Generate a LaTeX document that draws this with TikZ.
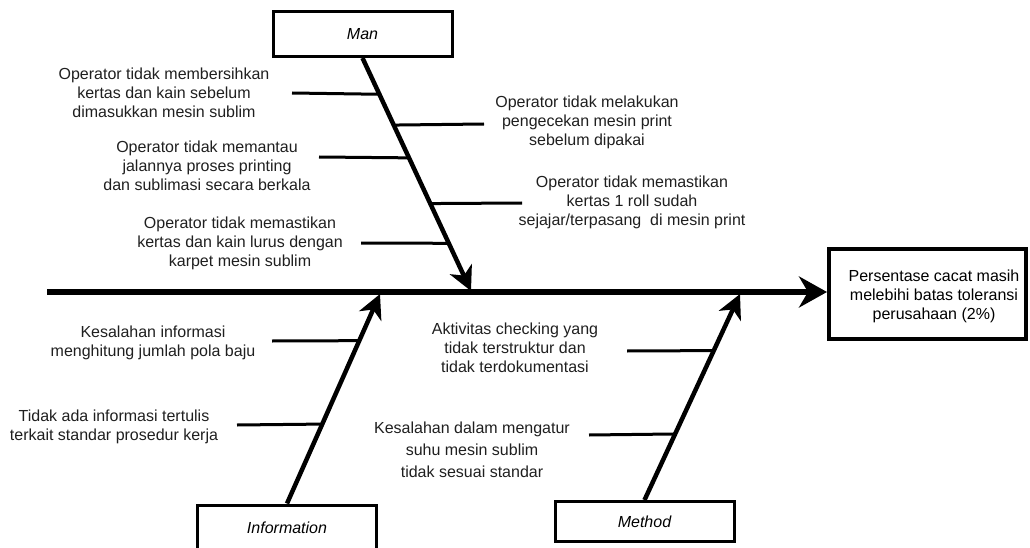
\documentclass[tikz,border=0pt]{standalone}
\usepackage{fontspec}
\setmainfont{Liberation Sans}
\usetikzlibrary{arrows.meta,calc}
\begin{document}
\begin{tikzpicture}[x=1pt,y=-1pt,
  every node/.style={font=\fontsize{16}{19}\selectfont},
  lbl/.style={align=center, text=black!88, inner sep=0pt},
  catbox/.style={draw, line width=3pt, minimum width=179pt, inner sep=0pt, font=\fontsize{16}{19}\selectfont\itshape},
  spine/.style={line width=5.5pt, -{Stealth[length=28pt,width=31pt,inset=9pt]}},
  bone/.style={line width=4.5pt, -{Stealth[length=24pt,width=24pt,inset=7pt]}},
  twig/.style={line width=3pt}]
\useasboundingbox (0,0) rectangle (1030,548);

% category boxes and effect box
\node[catbox, minimum height=45pt] (man) at (362.5,34) {Man};
\node[catbox, minimum height=45pt] (info) at (287,527.5) {Information};
\node[catbox, minimum height=40pt] (meth) at (644.5,521.5) {Method};
\node[draw, line width=4pt, minimum width=197pt, minimum height=90pt, inner sep=0pt] (res) at (927.5,294) {};
\node[lbl, text=black] (rt) at (934,296) {Persentase cacat masih\\melebihi batas toleransi\\perusahaan (2\%)};

% spine
\coordinate (s0) at (47,292);
\draw[spine] (s0) -- (res.west |- s0);

% bone tips
\coordinate (mtip) at (471,291);
\coordinate (itip) at (380,294);
\coordinate (etip) at (740,294);
\draw[bone] (man.south) -- (mtip);
\draw[bone] (info.north) -- (itip);
\draw[bone] (meth.north) -- (etip);

% Man causes
\node[lbl] (t1) at (164,93) {Operator tidak membersihkan\\kertas dan kain sebelum\\dimasukkan mesin sublim};
\node[lbl] (t2) at (207,166) {Operator tidak memantau\\jalannya proses printing\\dan sublimasi secara berkala};
\node[lbl] (t3) at (240,243) {Operator tidak memastikan\\kertas dan kain lurus dengan\\karpet mesin sublim};
\node[lbl] (t4) at (587,122) {Operator tidak melakukan\\pengecekan mesin print\\sebelum dipakai};
\node[lbl] (t5) at (632,202) {Operator tidak memastikan\\kertas 1 roll sudah\\sejajar/terpasang\ \ di mesin print};

\coordinate (a1) at (292,93);
\coordinate (j1) at ($(man.south)!{(93-56.5)/234.5}!(mtip)$);
\coordinate (a2) at (319,157);
\coordinate (j2) at ($(man.south)!{(157-56.5)/234.5}!(mtip)$);
\coordinate (a3) at (361,243);
\coordinate (j3) at ($(man.south)!{(243-56.5)/234.5}!(mtip)$);
\coordinate (a4) at (484,124);
\coordinate (j4) at ($(man.south)!{(124-56.5)/234.5}!(mtip)$);
\coordinate (a5) at (522,203);
\coordinate (j5) at ($(man.south)!{(203-56.5)/234.5}!(mtip)$);
\draw[twig] (a1) -- (j1);
\draw[twig] (a2) -- (j2);
\draw[twig] (a3) -- (j3);
\draw[twig] (a4) -- (j4);
\draw[twig] (a5) -- (j5);

% Information causes
\node[lbl] (t6) at (153,343) {Kesalahan informasi\\menghitung jumlah pola baju};
\node[lbl] (t7) at (114,427) {Tidak ada informasi tertulis\\terkait standar prosedur kerja};
\coordinate (a6) at (272,341);
\coordinate (j6) at ($(info.north)!{(505-341)/211}!(itip)$);
\coordinate (a7) at (237,425);
\coordinate (j7) at ($(info.north)!{(505-425)/211}!(itip)$);
\draw[twig] (a6) -- (j6);
\draw[twig] (a7) -- (j7);

% Method causes
\node[lbl] (t8) at (515,348) {Aktivitas checking yang\\tidak terstruktur dan\\tidak terdokumentasi};
\node[lbl, font=\fontsize{16}{22}\selectfont] (t9) at (472,450) {Kesalahan dalam mengatur\\suhu mesin sublim\\tidak sesuai standar};
\coordinate (a8) at (627,351);
\coordinate (j8) at ($(meth.north)!{(501.5-351)/207.5}!(etip)$);
\coordinate (a9) at (589,435);
\coordinate (j9) at ($(meth.north)!{(501.5-435)/207.5}!(etip)$);
\draw[twig] (a8) -- (j8);
\draw[twig] (a9) -- (j9);
\end{tikzpicture}
\end{document}
